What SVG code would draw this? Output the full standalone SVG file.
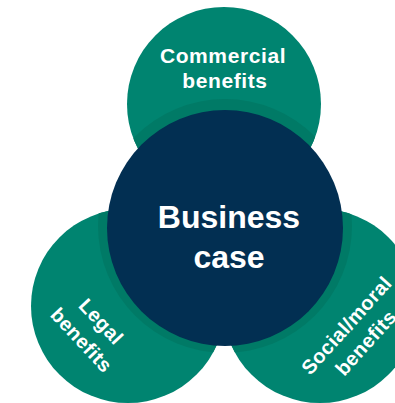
<svg xmlns="http://www.w3.org/2000/svg" width="395" height="403" viewBox="0 0 395 403">
<style>
.g{fill:#008470}
.t{fill:#ffffff;font-family:"Liberation Sans",Arial,sans-serif;font-weight:bold;text-anchor:middle}
.s{font-size:20px;letter-spacing:0.4px}
</style>
<defs>
<clipPath id="greens">
<circle cx="224" cy="104" r="97"/>
<circle cx="128" cy="306" r="97"/>
<circle cx="320" cy="306" r="97"/>
</clipPath>
</defs>
<rect width="395" height="403" fill="#ffffff"/>
<g id="commercial">
<circle class="g" cx="224" cy="104" r="97"/>
<text class="t" x="223" y="63" style="font-size:21px;letter-spacing:0.6px">Commercial</text>
<text class="t" x="225" y="88" style="font-size:21px;letter-spacing:0.6px">benefits</text>
</g>
<g id="legal">
<circle class="g" cx="128" cy="306" r="97"/>
<g transform="translate(91,331) rotate(47)">
<text class="t s" x="0" y="-7">Legal</text>
<text class="t s" x="0" y="20">benefits</text>
</g>
</g>
<g id="social">
<circle class="g" cx="320" cy="306" r="97"/>
<g transform="translate(356,334) rotate(-48)">
<text class="t s" x="0" y="-6">Social/moral</text>
<text class="t s" x="0" y="20">benefits</text>
</g>
</g>
<g id="shadow" clip-path="url(#greens)">
<circle cx="225" cy="226" r="127" fill="#007a66"/>
</g>
<g id="business">
<circle cx="225" cy="228" r="118" fill="#022f52"/>
<text class="t" x="229" y="228" style="font-size:32px">Business</text>
<text class="t" x="229" y="268" style="font-size:32px">case</text>
</g>
<g id="connectors"></g>
</svg>
